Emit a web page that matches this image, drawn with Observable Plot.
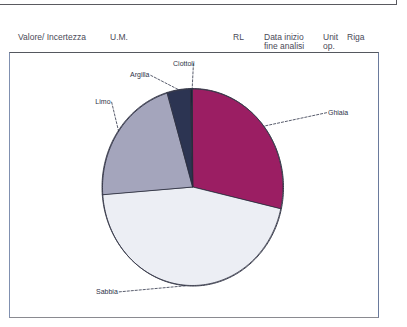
<!DOCTYPE html>
<html>
<head>
<meta charset="utf-8">
<script src="https://cdn.jsdelivr.net/npm/d3@7"></script>
<script src="https://cdn.jsdelivr.net/npm/@observablehq/plot@0.6"></script>
<style>
  html, body { margin: 0; padding: 0; background: #fff; }
  #page { position: relative; width: 407px; height: 327px; overflow: hidden; font-family: "Liberation Sans", Arial, sans-serif; color: #4a4a58; }
  #topline { position: absolute; left: 0; top: 4px; width: 397px; height: 0; border-top: 1.5px solid #5a5a60; }
  #topcorner { position: absolute; left: 396px; top: 0; width: 0; height: 5px; border-left: 1.5px solid #5a5a60; }
  .h { position: absolute; font-size: 8.5px; line-height: 9px; white-space: nowrap; }
  #box { position: absolute; left: 9px; top: 52px; width: 368px; height: 264px;
         border-top: 1.5px solid #55585f; border-left: 1.5px solid #8090b0; border-right: 1.5px solid #6a7a9c; border-bottom: 1.5px solid #8a8a90; }
  #box svg { display: block; }
</style>
</head>
<body>
<div id="page">
  <div id="topline"></div><div id="topcorner"></div>
  <div id="header"></div>
  <div id="box"></div>
</div>
<script>
// ---- data ----
const categories = ["Ghiaia", "Sabbia", "Limo", "Argilla", "Ciottoli"];
const percents   = [28.6, 45.2, 21.7, 4.2, 0.3];
const headerLabels = ["Valore/ Incertezza", "U.M.", "RL", "Data inizio\nfine analisi", "Unit\nop.", "Riga"];

// ---- styles / layout ----
const colors = {Ghiaia: "#9b1e63", Sabbia: "#eceef4", Limo: "#a4a5bc", Argilla: "#2c3452", Ciottoli: "#1c2236"};
const headerX = [18, 110, 233, 264, 323, 347];
const headerTop = 33;
// label anchors in normalized ellipse units
const labelAnchor = {
  Ghiaia:   {x: 1.48,  y: -0.76, anchor: "start", dx: 1},
  Sabbia:   {x: -0.82, y: 1.06,  anchor: "end",   dx: -1},
  Limo:     {x: -0.90, y: -0.87, anchor: "end",   dx: -1},
  Argilla:  {x: -0.47, y: -1.14, anchor: "end",   dx: -1},
  Ciottoli: {x: 0.005, y: -1.26, anchor: "end",   dx: 1}
};

// header
const header = document.getElementById("header");
headerLabels.forEach((t, i) => {
  const d = document.createElement("div");
  d.className = "h";
  d.style.left = headerX[i] + "px";
  d.style.top = headerTop + "px";
  d.innerHTML = t.split("\n").join("<br>");
  header.appendChild(d);
});

// pie geometry from data
const data = categories.map((c, i) => ({category: c, value: percents[i]}));
const arcs = d3.pie().sort(null).value(d => d.value)(data);
const wedgePts = [];
arcs.forEach(a => {
  const n = Math.max(2, Math.ceil((a.endAngle - a.startAngle) / 0.02));
  for (let k = 0; k <= n; k++) {
    const t = a.startAngle + (a.endAngle - a.startAngle) * k / n;
    wedgePts.push({category: a.data.category, x1: Math.sin(t), y1: -Math.cos(t), x2: 0, y2: 0});
  }
});
const ring = d3.range(0, 361).map(d => ({x: Math.sin(d * Math.PI / 180), y: -Math.cos(d * Math.PI / 180)}));
const leaders = arcs.map(a => {
  const m = (a.startAngle + a.endAngle) / 2;
  const L = labelAnchor[a.data.category];
  return {category: a.data.category, x1: L.x, y1: L.y, x2: Math.sin(m), y2: -Math.cos(m), ...L};
});

const W = 368, H = 264;
const chart = Plot.plot({
  width: W, height: H,
  margin: 0,
  style: {background: "transparent", fontFamily: "Liberation Sans, Arial, sans-serif"},
  x: {domain: [-1, 1], range: [92, 273], axis: null},
  y: {domain: [-1, 1], range: [35.5, 232.5], axis: null},
  color: {domain: categories, range: categories.map(c => colors[c])},
  marks: [
    Plot.area(wedgePts, {x1: "x1", y1: "y1", x2: "x2", y2: "y2", z: "category", fill: "category", stroke: "#2a2c3c", strokeWidth: 0.8, curve: "linear"}),
    Plot.line(ring, {x: "x", y: "y", stroke: "#3a3c4c", strokeWidth: 1}),
    Plot.link(leaders, {x1: "x1", y1: "y1", x2: "x2", y2: "y2", stroke: "#2e3348", strokeWidth: 0.8, strokeDasharray: "3,1"}),
    ...categories.map(c => Plot.text(leaders.filter(d => d.category === c), {
      x: "x1", y: "y1", text: "category", textAnchor: labelAnchor[c].anchor, dx: labelAnchor[c].dx,
      fontSize: 7, fill: "#2e3348"
    }))
  ]
});
document.getElementById("box").appendChild(chart);
</script>
</body>
</html>
